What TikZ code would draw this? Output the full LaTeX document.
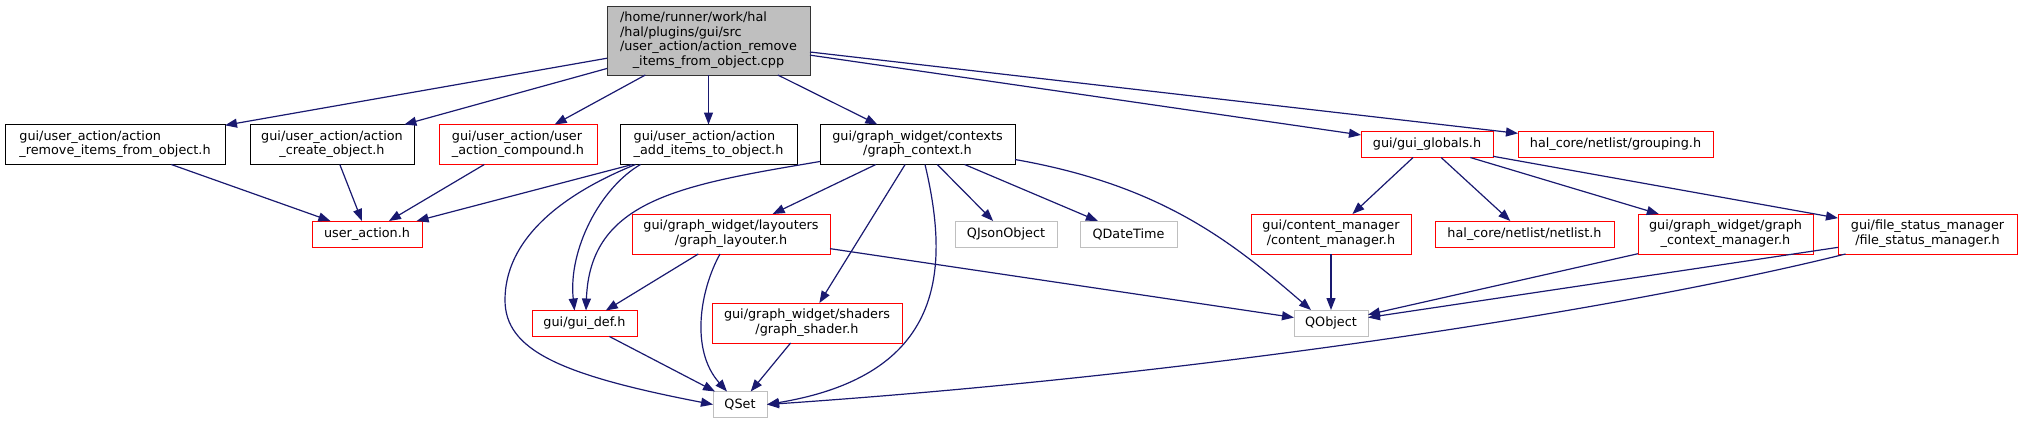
\documentclass[tikz,border=0pt]{standalone}
\usepackage{fontspec}
\setmainfont{DejaVu Sans}
\usepackage{tikz}
\usetikzlibrary{arrows.meta}
\definecolor{depblue}{HTML}{191970}
\definecolor{grey75}{HTML}{BFBFBF}
\tikzset{
hfile/.style = {rectangle, draw=black, fill=white, line width=1pt,
                inner sep=0pt, outer sep=0pt},
htrunc/.style = {hfile, draw=red},
hsys/.style = {hfile, draw=grey75},
hroot/.style = {hfile, draw=black!80, fill=grey75},
oneline/.style = {minimum height=26pt},
twoline/.style = {minimum height=40pt},
dep/.style = {draw=depblue, line width=1.2pt,
              -{Triangle[length=12pt,width=9pt]}}
}
\newcommand{\dep}[2]{\draw[dep] (#1) -- (#2);}
% all lines left, the last one centred
\newcommand{\twol}[2]{\begin{tabular}{@{}l@{}}#1\\\multicolumn{1}{@{}c@{}}{#2}\end{tabular}}

\begin{document}
\begin{tikzpicture}[x=1pt, y=-1pt, font=\fontsize{12.8}{14.5}\selectfont]
        \useasboundingbox (0,0) rectangle (2022,424);
        % the source file
        \node[hroot, minimum width=203pt, minimum height=69pt] (cpp) at (708.5,40.5)
          {\begin{tabular}{@{}l@{}}/home/runner/work/hal\\/hal/plugins/gui/src\\/user\_action/action\_remove\\\multicolumn{1}{@{}c@{}}{\_items\_from\_object.cpp}\end{tabular}};
        % direct includes
        \node[hfile, twoline, minimum width=220pt] (rmh) at (115,144.5) {\twol{gui/user\_action/action}{\_remove\_items\_from\_object.h}};
        \node[hfile, twoline, minimum width=164pt] (crh) at (332,144.5) {\twol{gui/user\_action/action}{\_create\_object.h}};
        \node[htrunc, twoline, minimum width=158pt] (cph) at (518,144.5) {\twol{gui/user\_action/user}{\_action\_compound.h}};
        \node[hfile, twoline, minimum width=177pt] (adh) at (708.5,144.5) {\twol{gui/user\_action/action}{\_add\_items\_to\_object.h}};
        \node[hfile, twoline, minimum width=195pt] (gch) at (917.5,144.5) {\twol{gui/graph\_widget/contexts}{/graph\_context.h}};
        \node[htrunc, oneline, minimum width=132pt] (glb) at (1427,144.5) {gui/gui\_globals.h};
        \node[htrunc, oneline, minimum width=195pt] (grp) at (1615.5,144.5) {hal\_core/netlist/grouping.h};
        % second level
        \node[htrunc, oneline, minimum width=110pt] (uah) at (367,234) {user\_action.h};
        \node[htrunc, twoline, minimum width=198pt] (lay) at (731,234) {\twol{gui/graph\_widget/layouters}{/graph\_layouter.h}};
        \node[hsys, oneline, minimum width=102pt] (qjs) at (1006,234) {QJsonObject};
        \node[hsys, oneline, minimum width=97pt] (qdt) at (1128.5,234) {QDateTime};
        \node[htrunc, twoline, minimum width=160pt] (cmg) at (1331,234) {\twol{gui/content\_manager}{/content\_manager.h}};
        \node[htrunc, oneline, minimum width=179pt] (nlh) at (1524.5,234) {hal\_core/netlist/netlist.h};
        \node[htrunc, twoline, minimum width=175pt] (gcm) at (1725.5,234) {\twol{gui/graph\_widget/graph}{\_context\_manager.h}};
        \node[htrunc, twoline, minimum width=179pt] (fsm) at (1927.5,234) {\twol{gui/file\_status\_manager}{/file\_status\_manager.h}};
        % third level
        \node[htrunc, oneline, minimum width=105pt] (gdf) at (584.5,323.5) {gui/gui\_def.h};
        \node[htrunc, twoline, minimum width=190pt] (shd) at (807,323) {\twol{gui/graph\_widget/shaders}{/graph\_shader.h}};
        \node[hsys, oneline, minimum width=74pt] (qob) at (1331,323) {QObject};
        \node[hsys, oneline, minimum width=54pt] (qst) at (740,404.5) {QSet};
        % edges
        \dep{cpp}{rmh}
        \dep{cpp}{crh}
        \dep{cpp}{cph}
        \dep{cpp}{adh}
        \dep{cpp}{gch}
        \dep{cpp}{glb}
        \dep{cpp}{grp}
        \dep{rmh}{uah}
        \dep{crh}{uah}
        \dep{cph}{uah}
        \dep{adh}{uah}
        \draw[dep] ([xshift=-68pt]adh.south) .. controls (600,188) and (568,250) .. ([xshift=-10pt]gdf.north);
        \draw[dep] ([xshift=-73pt]adh.south) .. controls (560,195) and (505,240) .. (505,300)
                   .. controls (505,350) and (560,375) .. (qst.west);
        \draw[dep] ([yshift=3pt]gch.south west) .. controls (680,185) and (590,200) .. ([xshift=1.5pt]gdf.north);
        \dep{gch}{lay}
        \dep{gch}{shd}
        \draw[dep] ([xshift=7.5pt]gch.south) .. controls (950,270) and (945,375) .. (qst.east);
        \dep{gch}{qjs}
        \dep{gch}{qdt}
        \draw[dep] ([yshift=5pt]gch.south east) .. controls (1160,185) and (1230,240) .. ([xshift=-20pt]qob.north);
        \dep{lay}{gdf}
        \draw[dep] ([xshift=-11pt]lay.south) .. controls (700,290) and (690,350) .. ([xshift=-13pt]qst.north);
        \dep{lay}{qob}
        \dep{gdf}{qst}
        \dep{shd}{qst}
        \dep{glb}{cmg}
        \dep{glb}{nlh}
        \dep{glb}{gcm}
        \dep{glb}{fsm}
        \dep{cmg}{qob}
        \dep{gcm}{qob}
        \dep{fsm}{qob}
        \draw[dep] ([xshift=-82pt]fsm.south) .. controls (1620,310) and (1200,375) .. (qst.east);
\end{tikzpicture}
\end{document}
